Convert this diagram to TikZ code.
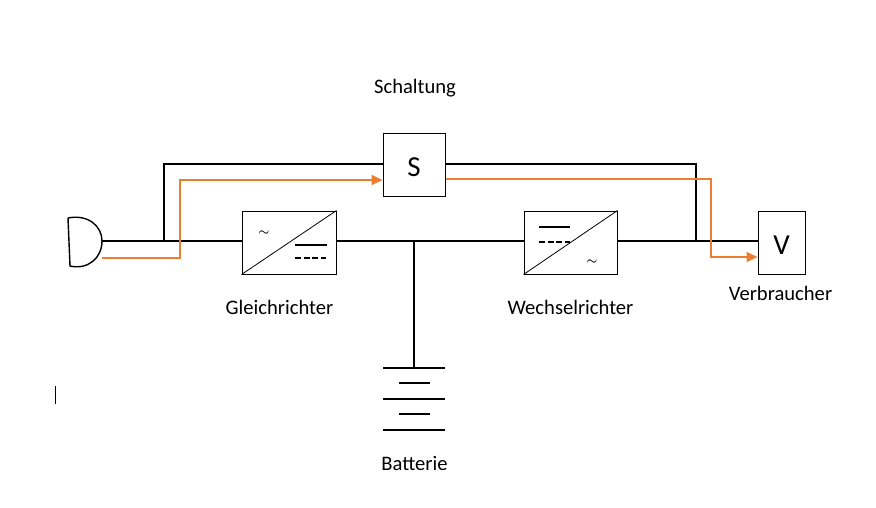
\documentclass[tikz,border=0pt]{standalone}
\usepackage{fontspec}
\setmainfont{Carlito}
\usetikzlibrary{arrows.meta}
\definecolor{flow}{RGB}{237,125,49}
\tikzset{
  unit/.style={draw,line width=1pt,inner sep=0pt,minimum height=63pt},
  wire/.style={line width=2pt},
  flowline/.style={draw=flow,line width=2pt},
  flowarrow/.style={flowline,-{Triangle[length=11pt,width=10pt]}},
  lbl/.style={font=\fontsize{20.6}{22}\selectfont,inner sep=0pt},
  sym/.style={font=\fontsize{29}{30}\selectfont,inner sep=0pt,yshift=-2.5pt},
  tilde/.style={font=\fontsize{12}{12}\selectfont\boldmath,inner sep=0pt},
  thinline/.style={line width=.8pt},
}
\begin{document}
\begin{tikzpicture}[x=1pt,y=-1pt]
\useasboundingbox (0,0) rectangle (876,507);
% boxes
\node[unit,minimum width=62pt,label={[sym]center:S}] (schalter) at (414,164.5) {};
\node[unit,minimum width=94pt] (gleich) at (289,242.5) {};
\node[unit,minimum width=93pt] (wechsel) at (570.5,242.5) {};
\node[unit,minimum width=47pt,label={[sym]center:V}] (verbr) at (781.5,242.5) {};
% plug
\coordinate (plugtop) at (68,218);
\coordinate (plugbot) at (70,266);
\coordinate (plugout) at (102,241);
\coordinate (plugflow) at (102,258);
\draw[line width=1.4pt] (plugtop) -- (plugbot) .. controls (88,270) and (102,258) .. (plugout) .. controls (102,226) and (88,214) .. (plugtop);
% main line
\coordinate (junctl) at (164,241);
\coordinate (junctm) at (414,241);
\coordinate (junctr) at (696,241);
\draw[wire] (plugout) -- (gleich.west |- plugout);
\draw[wire] (gleich.east |- plugout) -- (wechsel.west |- plugout);
\draw[wire] (wechsel.east |- plugout) -- (verbr.west |- plugout);
% bypass
\draw[wire] (junctl) |- (schalter.west |- 0,164);
\draw[wire] (schalter.east |- 0,164) -| (junctr);
% battery
\coordinate (bat1) at (414,368);
\draw[wire] (junctm) -- (bat1);
\draw[wire] (383,368) -- (445,368);
\draw[wire] (399,383) -- (430,383);
\draw[wire] (383,399) -- (445,399);
\draw[wire] (399,414) -- (430,414);
\draw[wire] (383,430) -- (445,430);
% converters
\draw[thinline] (gleich.south west) -- (gleich.north east);
\draw[thinline] (wechsel.south west) -- (wechsel.north east);
\node[tilde] (acg) at (264,233) {$\sim$};
\node[tilde] (acw) at (592,262) {$\sim$};
\draw[wire] (295,245) -- (327,245);
\draw[wire,dash pattern=on 6pt off 2.6pt] (295,258) -- (326,258);
\draw[wire] (539,227) -- (570,227);
\draw[wire,dash pattern=on 6pt off 2.6pt] (539,242) -- (570,242);
% energy flow
\draw[flowarrow] (plugflow) -- (180,258) -- (180,180) -- (schalter.west |- 0,180);
\draw[flowarrow] (schalter.east |- 0,179) -- (711,179) -- (711,257) -- (verbr.west |- 0,257);
% labels
\node[lbl] (schaltung) at (415,88.5) {Schaltung};
\node[lbl] (gleichtxt) at (279.5,307.5) {Gleichrichter};
\node[lbl] (wechseltxt) at (570.5,307.5) {Wechselrichter};
\node[lbl] (verbrtxt) at (780.5,293.5) {Verbraucher};
\node[lbl] (battxt) at (414.5,463.5) {Batterie};
% cursor
\draw[line width=.8pt] (55,386) -- (55,404);
\end{tikzpicture}
\end{document}
